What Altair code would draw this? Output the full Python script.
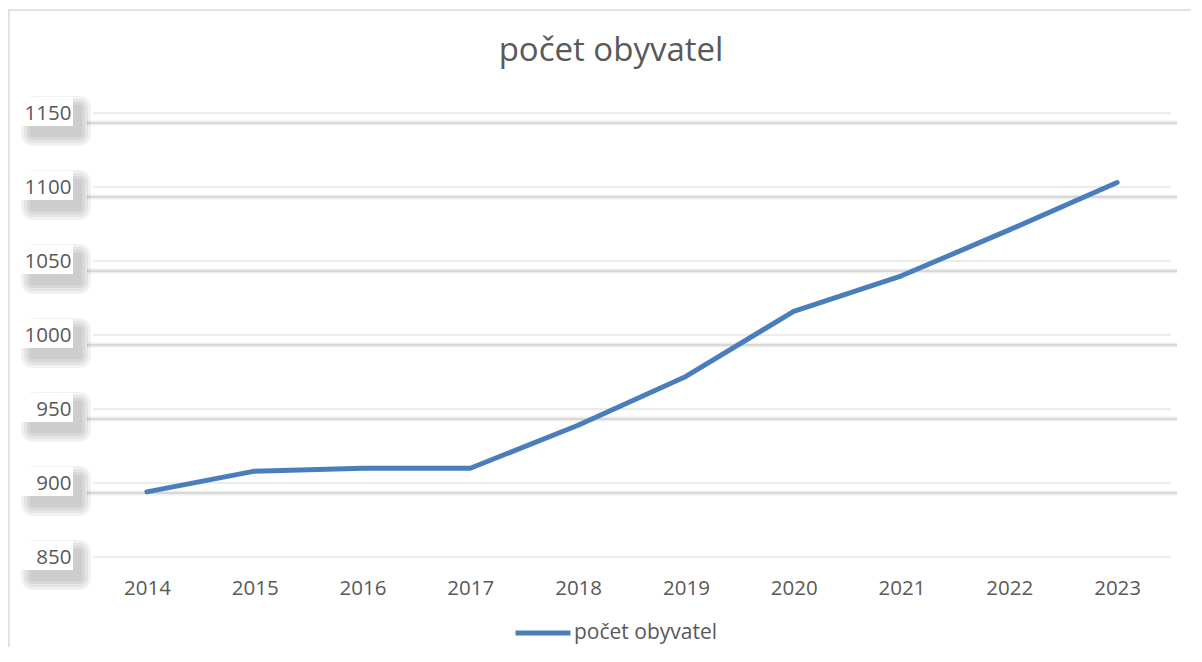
import altair as alt
import pandas as pd

years = ["2014", "2015", "2016", "2017", "2018", "2019", "2020", "2021", "2022", "2023"]
population = [894, 908, 910, 910, 939, 972, 1016, 1040, 1071, 1103]
y_ticks = [850, 900, 950, 1000, 1050, 1100, 1150]
shadow_ticks = [900, 950, 1000, 1050, 1100, 1150]
series_name = "počet obyvatel"

W, H = 1078, 444
FONT = "Open Sans"
TXT = "#595959"
LINE = "#4A7EBB"

df_line = pd.DataFrame({"year": years, "v": population, "series": series_name})
df_grid = pd.DataFrame({"v": y_ticks})
df_shadow = pd.DataFrame({"v": shadow_ticks})

yscale = alt.Scale(domain=[850, 1150], nice=False, zero=False)

grid = alt.Chart(df_grid).mark_rule(color="#d9d9d9", strokeWidth=1).encode(
    y=alt.Y("v:Q", scale=yscale)
)
shadow_soft = alt.Chart(df_shadow).mark_rule(
    color="#efefef", strokeWidth=5, yOffset=10
).encode(
    y=alt.Y("v:Q", scale=yscale),
    x=alt.value(-6), x2=alt.value(W + 6),
)
shadow = alt.Chart(df_shadow).mark_rule(
    color="#d8d8d8", strokeWidth=2, yOffset=10
).encode(
    y=alt.Y("v:Q", scale=yscale),
    x=alt.value(-6), x2=alt.value(W + 6),
)

halo_layers = []
for grow in [10, 7, 4, 1]:
    halo_layers.append(
        alt.Chart(df_grid).mark_rect(
            color="#5a5a5a", opacity=0.085, yOffset=-7 - grow, y2Offset=23 + grow,
            cornerRadius=grow + 2,
        ).encode(
            y=alt.Y("v:Q", scale=yscale),
            y2="v:Q",
            x=alt.value(-62 - grow), x2=alt.value(-12 + grow),
        )
    )
white = alt.Chart(df_grid).mark_rect(
    color="white", yOffset=-16, y2Offset=13
).encode(
    y=alt.Y("v:Q", scale=yscale),
    y2="v:Q",
    x=alt.value(-72), x2=alt.value(-20),
)

line = alt.Chart(df_line).mark_line(strokeWidth=5, strokeCap="round", strokeJoin="round").encode(
    x=alt.X(
        "year:O",
        scale=alt.Scale(type="point", padding=0.5),
        axis=alt.Axis(
            title=None, labelAngle=0, ticks=False, domain=False, grid=False,
            labelFont=FONT, labelFontSize=20.5, labelColor=TXT, labelPadding=21,
            labelBaseline="top",
        ),
    ),
    y=alt.Y(
        "v:Q",
        scale=yscale,
        axis=alt.Axis(
            title=None, values=y_ticks, format="d", ticks=False, domain=False,
            grid=False, labelFont=FONT, labelFontSize=20.5, labelColor=TXT,
            labelPadding=22, zindex=1,
        ),
    ),
    color=alt.Color(
        "series:N",
        scale=alt.Scale(range=[LINE]),
        legend=alt.Legend(
            title=None, orient="none", legendX=420, legendY=490,
            symbolType="stroke", symbolSize=3025, symbolStrokeWidth=5,
            labelFont=FONT, labelFontSize=21, labelColor=TXT, labelOffset=1,
        ),
    ),
)

frame_data = alt.Data(values=[{"a": 1}])
frame_top = alt.Chart(frame_data).mark_rule(color="#d9d9d9", strokeWidth=1.5).encode(
    x=alt.value(-85), x2=alt.value(W + 40), y=alt.value(-103)
)
frame_left = alt.Chart(frame_data).mark_rule(color="#d9d9d9", strokeWidth=1.5).encode(
    x=alt.value(-84), y=alt.value(-103), y2=alt.value(H + 120)
)

chart = alt.layer(
    frame_top, frame_left, grid, shadow_soft, shadow, *halo_layers, white, line
).properties(
    width=W, height=H,
    title=alt.TitleParams(
        series_name, font=FONT, fontSize=33, fontWeight="normal", color=TXT,
        anchor="middle", frame="group", dx=-21, offset=-85, baseline="alphabetic",
    ),
    autosize=alt.AutoSizeParams(type="none"),
    padding={"left": 85, "top": 105, "right": 20, "bottom": 90},
).configure_view(stroke=None)

chart.save("out.html", embed_options={"renderer": "svg", "actions": False})
